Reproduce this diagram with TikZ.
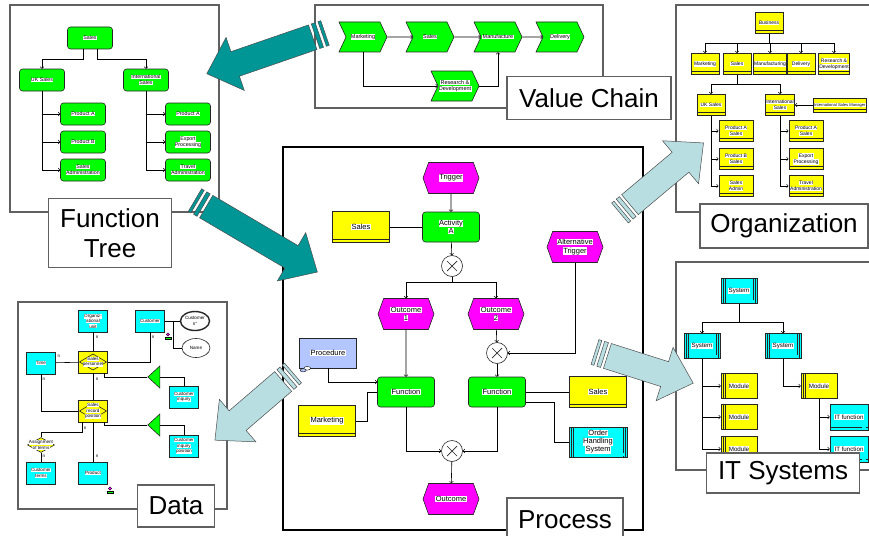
\documentclass[tikz,border=0pt]{standalone}
\usepackage{fontspec}
\setmainfont{Liberation Sans}
\usepackage{tikz}
\usetikzlibrary{calc}
\usetikzlibrary{shapes.geometric, shapes.symbols, arrows}

\definecolor{fngreen}{RGB}{0,255,0}
\definecolor{evpink}{RGB}{255,0,255}
\definecolor{orgyellow}{RGB}{255,255,0}
\definecolor{syscyan}{RGB}{0,255,255}
\definecolor{doclilac}{RGB}{180,198,255}
\definecolor{darkteal}{RGB}{0,150,150}
\definecolor{paleteal}{RGB}{184,222,226}
\definecolor{framegray}{RGB}{96,96,96}

% white patch behind each line of box text
\newcommand{\wt}[1]{{\setlength{\fboxsep}{0.3pt}\colorbox{white}{#1}}}

% striped block arrow: tail point, direction, length, colour
\newcommand{\bigarrow}[4]{%
  \begin{scope}[shift={#1}, rotate=#2]
    \filldraw[fill=#4, draw=black!70, line width=0.5pt] (0,-13) rectangle (3,13);
    \filldraw[fill=#4, draw=black!70, line width=0.5pt] (6,-13) rectangle (10,13);
    \filldraw[fill=#4, draw=black!70, line width=0.5pt] (13,-13) -- ({#3-30},-13) -- ({#3-30},-28)
      -- (#3,0) -- ({#3-30},28) -- ({#3-30},13) -- (13,13) -- cycle;
  \end{scope}}

\tikzstyle{panel} = [draw=framegray, line width=1.1pt]
\tikzstyle{caption} = [rectangle, draw=framegray, line width=1.1pt, fill=white, align=center,
  font=\fontsize{26}{30}\selectfont]
\tikzstyle{arrow} = [->,>=to]
\tikzstyle{nlbl} = [inner sep=0pt, font=\fontsize{4.5}{5}\selectfont]

% basic shapes
\tikzstyle{fnshape} = [rectangle, rounded corners=3pt, draw=black!85, fill=fngreen, align=center, inner sep=0.5pt]
\tikzstyle{evshape} = [signal, signal to=east and west, signal pointer angle=140, draw=black!85,
  fill=evpink, align=center, inner sep=0.5pt]
\tikzstyle{vcshape} = [signal, signal from=west, signal to=east, signal pointer angle=130,
  draw=black!85, fill=fngreen, align=center, inner sep=0.5pt]
\tikzstyle{orgshape} = [rectangle, draw=black!85, fill=orgyellow, align=center, inner sep=0.5pt,
  path picture={\draw ([yshift=3pt]path picture bounding box.south west)
    -- ([yshift=3pt]path picture bounding box.south east);}]
\tikzstyle{sysshape} = [rectangle, draw=black!85, fill=syscyan, align=center, inner sep=0.5pt,
  path picture={
    \draw ([xshift=2pt]path picture bounding box.north west) -- ([xshift=2pt]path picture bounding box.south west)
          ([xshift=4pt]path picture bounding box.north west) -- ([xshift=4pt]path picture bounding box.south west)
          ([xshift=-2pt]path picture bounding box.north east) -- ([xshift=-2pt]path picture bounding box.south east)
          ([xshift=-4pt]path picture bounding box.north east) -- ([xshift=-4pt]path picture bounding box.south east);
    \fill ([shift={(-6pt,1pt)}]path picture bounding box.south east) rectangle +(4pt,3pt);}]
\tikzstyle{modshape} = [rectangle, draw=black!85, fill=orgyellow, align=center, inner sep=0.5pt,
  path picture={
    \draw ([xshift=2pt]path picture bounding box.north west) -- ([xshift=2pt]path picture bounding box.south west)
          ([xshift=4pt]path picture bounding box.north west) -- ([xshift=4pt]path picture bounding box.south west);
    \fill ([shift={(-6pt,1pt)}]path picture bounding box.south east) rectangle +(4pt,3pt);}]
\tikzstyle{itfshape} = [rectangle, draw=black!85, fill=syscyan, align=center, inner sep=0.5pt,
  path picture={
    \draw ([yshift=3pt]path picture bounding box.south west) -- ([yshift=3pt]path picture bounding box.south east);
    \fill ([shift={(-6pt,1pt)}]path picture bounding box.south east) rectangle +(4pt,3pt);}]

% function tree and value chain
\tikzstyle{ftbox} = [fnshape, minimum width=45pt, minimum height=22pt, font=\fontsize{5.3}{6.2}\selectfont]
\tikzstyle{vcbox} = [vcshape, minimum width=48pt, minimum height=30pt, font=\fontsize{5.5}{6.4}\selectfont]
% organization
\tikzstyle{orgbox} = [orgshape, line width=1pt, minimum width=28pt, minimum height=21pt, font=\fontsize{5}{6}\selectfont]
\tikzstyle{orgsub} = [orgbox, minimum width=34pt]
% process
\tikzstyle{pfn} = [fnshape, minimum width=57pt, minimum height=30pt, font=\fontsize{7.5}{8.4}\selectfont]
\tikzstyle{pev} = [evshape, minimum width=56pt, minimum height=31pt, font=\fontsize{7.5}{8.4}\selectfont]
\tikzstyle{porg} = [orgshape, minimum width=57pt, minimum height=31pt, font=\fontsize{7.5}{8.4}\selectfont]
\tikzstyle{pdoc} = [rectangle, draw=black!85, fill=doclilac, minimum width=57pt, minimum height=30pt,
  inner sep=0.5pt, font=\fontsize{7.5}{8.4}\selectfont]
\tikzstyle{papp} = [sysshape, minimum width=58pt, minimum height=30pt, font=\fontsize{7.5}{8}\selectfont]
\tikzstyle{xor} = [circle, draw=black!85, fill=white, minimum size=21pt, inner sep=0pt,
  path picture={\draw[line width=0.7pt]
    ([shift={(-5pt,-5pt)}]path picture bounding box.center) -- ([shift={(5pt,5pt)}]path picture bounding box.center)
    ([shift={(-5pt,5pt)}]path picture bounding box.center) -- ([shift={(5pt,-5pt)}]path picture bounding box.center);}]
% data
\tikzstyle{entity} = [rectangle, draw=black!85, fill=syscyan, minimum width=29pt, minimum height=22pt,
  align=center, inner sep=0.5pt, font=\fontsize{4.6}{5.4}\selectfont]
\tikzstyle{relbox} = [rectangle, draw=black!85, fill=orgyellow, minimum width=29pt, minimum height=22pt,
  align=center, inner sep=0.5pt, font=\fontsize{4.6}{5.4}\selectfont,
  path picture={\draw ([xshift=1pt]path picture bounding box.west) -- ([yshift=-3pt]path picture bounding box.north)
    -- ([xshift=-1pt]path picture bounding box.east) -- ([yshift=3pt]path picture bounding box.south) -- cycle;}]
\tikzstyle{reldia} = [diamond, draw=black!85, fill=orgyellow, minimum width=27pt, minimum height=15pt, inner sep=0pt]
\tikzstyle{datatxt} = [inner sep=0pt, align=center, font=\fontsize{4.6}{5.4}\selectfont]
\tikzstyle{attr} = [ellipse, draw=black!85, fill=white, minimum width=28pt, minimum height=19pt, inner sep=0pt,
  align=center, font=\fontsize{4.6}{5.4}\selectfont]
\tikzstyle{tri} = [isosceles triangle, isosceles triangle stretches, rotate=180, draw=black!85, fill=fngreen,
  minimum width=22pt, minimum height=12pt, inner sep=0pt]
\tikzstyle{keymark} = [line width=0.4pt]
% it systems
\tikzstyle{sysbox} = [sysshape, minimum width=36pt, minimum height=25pt, font=\fontsize{6.2}{7}\selectfont]
\tikzstyle{modbox} = [modshape, minimum width=36pt, minimum height=25pt, font=\fontsize{6.2}{7}\selectfont]
\tikzstyle{itfbox} = [itfshape, minimum width=38pt, minimum height=26pt, font=\fontsize{6.2}{7}\selectfont]

\begin{document}
\begin{tikzpicture}[x=1pt, y=-1pt, line width=0.6pt]
    \fill[white] (0,0) rectangle (869,535);
    \useasboundingbox (0,0) rectangle (869,535);

    % Function tree
    \draw[panel] (10,5) rectangle (219,212);
    \node (ftSales) [ftbox] at (90,38) {\wt{Sales}};
    \node (ftUK) [ftbox] at (42,80) {\wt{UK Sales}};
    \node (ftIntl) [ftbox] at (146,80) {\wt{International}\\\wt{Sales}};
    \node (ftUKa) [ftbox] at (83,114) {\wt{Product A}};
    \node (ftUKb) [ftbox] at (83,142) {\wt{Product B}};
    \node (ftUKc) [ftbox] at (83,170) {\wt{Sales}\\\wt{Administration}};
    \node (ftINa) [ftbox] at (188,114) {\wt{Product A}};
    \node (ftINb) [ftbox] at (188,142) {\wt{Export}\\\wt{Processing}};
    \node (ftINc) [ftbox] at (188,170) {\wt{Travel}\\\wt{Administration}};

    \draw [arrow] ([xshift=-7pt]ftSales.south) -- ++(0,10) -| (ftUK.north);
    \draw [arrow] ([xshift=7pt]ftSales.south) -- ++(0,10) -| (ftIntl.north);
    \foreach \n in {ftUKa, ftUKb, ftUKc}
        \draw [arrow] (ftUK.south) |- (\n.west);
    \foreach \n in {ftINa, ftINb, ftINc}
        \draw [arrow] (ftIntl.south) |- (\n.west);

    % Value chain
    \draw[panel] (315,5) rectangle (603,108);
    \node (vcMkt) [vcbox] at (363,37) {\wt{Marketing}};
    \node (vcSales) [vcbox] at (430,37) {\wt{Sales}};
    \node (vcMfg) [vcbox] at (498,37) {\wt{Manufacture}};
    \node (vcDel) [vcbox] at (560,37) {\wt{Delivery}};
    \node (vcRD) [vcbox] at (455,86) {\wt{Research \&}\\\wt{Development}};

    \draw [arrow] (vcMkt) -- (vcSales);
    \draw [arrow] (vcSales) -- (vcMfg);
    \draw [arrow] (vcMfg) -- (vcDel);
    \draw [arrow] (vcMkt.south) |- (vcRD.west);
    \draw [arrow] (vcRD.east) -| (vcMfg.south);

    % Organization
    \draw[panel] (676,5) rectangle (885,212);
    \node (orgBiz) [orgbox] at (769,23) {\wt{Business}};
    \node (orgMkt) [orgbox] at (705,64) {\wt{Marketing}};
    \node (orgSales) [orgbox] at (737,64) {\wt{Sales}};
    \node (orgMfg) [orgbox] at (770,64) {\wt{Manufacturing}};
    \node (orgDel) [orgbox] at (801,64) {\wt{Delivery}};
    \node (orgRD) [orgbox] at (834,64) {\wt{Research \&}\\\wt{Development}};
    \node (orgUK) [orgbox] at (711,105) {\wt{UK Sales}};
    \node (orgIntl) [orgbox] at (780,105) {\wt{International}\\\wt{Sales}};
    \node (orgMgr) [orgbox, minimum height=14pt, anchor=west, font=\fontsize{4.1}{5}\selectfont]
        at (813,105) {\wt{International Sales Manager}};
    \node (orgUKa) [orgsub] at (736,131) {\wt{Product A}\\\wt{Sales}};
    \node (orgUKb) [orgsub] at (736,159) {\wt{Product B}\\\wt{Sales}};
    \node (orgUKc) [orgsub] at (736,186) {\wt{Sales}\\\wt{Admin}};
    \node (orgINa) [orgsub] at (806,131) {\wt{Product A}\\\wt{Sales}};
    \node (orgINb) [orgsub] at (806,159) {\wt{Export}\\\wt{Processing}};
    \node (orgINc) [orgsub] at (806,186) {\wt{Travel}\\\wt{Administration}};

    \foreach \n in {orgMkt, orgSales, orgMfg, orgDel, orgRD}
        \draw [arrow] (orgBiz.south) -- ++(0,9) -| (\n.north);
    \draw [arrow] (orgSales.south) -- ++(0,9) -| (orgUK.north);
    \draw [arrow] (orgSales.south) -- ++(0,9) -| (orgIntl.north);
    \foreach \n in {orgUKa, orgUKb, orgUKc}
        \draw [arrow] (orgUK.south) |- (\n.west);
    \foreach \n in {orgINa, orgINb, orgINc}
        \draw [arrow] (orgIntl.south) |- (\n.west);
    \draw [arrow] (orgMgr) -- (orgIntl);

    % Process
    \draw[line width=2pt] (283,147) rectangle (643,530);
    \node (trig) [pev] at (451,178) {\wt{Trigger}};
    \node (actA) [pfn] at (451,227) {\wt{Activity}\\\wt{A}};
    \node (pSales) [porg] at (361,227) {\wt{Sales}};
    \node (x1) [xor] at (452,266) {};
    \node (out1) [pev] at (406,314) {\wt{Outcome}\\\wt{1}};
    \node (out2) [pev] at (496,314) {\wt{Outcome}\\\wt{2}};
    \node (altTrig) [pev] at (575,247) {\wt{Alternative}\\\wt{Trigger}};
    \node (x2) [xor] at (497,353) {};
    \node (proc) [pdoc] at (328,353) {\wt{Procedure}};
    \node (fnL) [pfn] at (406,392) {\wt{Function}};
    \node (fnR) [pfn] at (497,392) {\wt{Function}};
    \node (pMkt) [porg] at (327,421) {\wt{Marketing}};
    \node (pSales2) [porg] at (598,392) {\wt{Sales}};
    \node (ohs) [papp] at (598,442) {\wt{Order}\\\wt{Handling}\\\wt{System}};
    \node (x3) [xor] at (452,451) {};
    \node (outF) [pev] at (451,499) {\wt{Outcome}};

    % small icon on the procedure
    \draw[fill=white, line width=0.4pt] ([xshift=8pt]proc.south west) ellipse (3.5pt and 1.8pt);
    \draw[fill=doclilac, line width=0.4pt] ([shift={(4pt,-2pt)}]proc.south west) ellipse (3pt and 1.6pt);

    \draw [arrow] (trig) -- (actA);
    \draw (pSales) -- (actA);
    \draw [arrow] (actA) -- (x1);
    \draw [arrow] (x1.south) -- ++(0,5) -| (out1.north);
    \draw [arrow] (x1.south) -- ++(0,5) -| (out2.north);
    \draw [arrow] (out1) -- (fnL);
    \draw [arrow] (out2) -- (x2);
    \draw [arrow] (altTrig.south) |- (x2.east);
    \draw [arrow] (x2) -- (fnR);
    \draw [arrow] (proc.south) |- ([yshift=10pt]fnL.west);
    \draw (pMkt.east) -- ++(11,0) |- (fnL.west);
    \draw (fnR) -- (pSales2);
    \draw ([yshift=-10pt]fnR.east) -- ++(28,0) |- (ohs.west);
    \draw [arrow] (fnL.south) |- (x3.west);
    \draw [arrow] (fnR.south) |- (x3.east);
    \draw [arrow] (x3) -- (outF);

    % Data
    \draw[panel] (18,302) rectangle (227,509);
    \node (dOrg) [entity] at (93,321) {\wt{Organiz-}\\\wt{ational}\\\wt{unit}};
    \node (dCust) [entity] at (150,321) {\wt{Customer}};
    \node (dCustNo) [attr, line width=1.4pt] at (195,321) {\wt{Customer}\\\wt{n°}};
    \node (dName) [attr] at (196,348) {\wt{Name}};
    \node (dTime) [entity] at (41,363) {\wt{Time}};
    \node (dSP) [relbox] at (93,362) {\wt{Sales}\\\wt{personnel}};
    \node (dInq) [entity] at (184,397) {\wt{Customer}\\\wt{inquiry}};
    \node (dTri1) [tri] at (155,377) {};
    \node (dSRP) [relbox] at (93,411) {\wt{Sales}\\\wt{record}\\\wt{position}};
    \node (dTri2) [tri] at (155,425) {};
    \node (dInqPos) [entity] at (184,446) {\wt{Customer}\\\wt{inquiry}\\\wt{position}};
    \node (dAssign) [reldia] at (41,445) {};
    \node (dAssignTxt) [datatxt] at (dAssign) {\wt{Assignment}\\\wt{of terms}};
    \node (dTerms) [entity] at (41,473) {\wt{Customer}\\\wt{terms}};
    \node (dProd) [entity] at (93,473) {\wt{Product}};

    \draw (dOrg) -- (dSP);
    \draw (dCust.south) |- (dSP.east);
    \draw (dCust) -- (dCustNo);
    \draw (dCust.east) -- ++(8,0) |- (dName.west);
    \draw (dTime) -- (dSP);
    \draw (dTime.south) |- (dSRP.west);
    \draw (dSP) -- (dSRP);
    \draw ([xshift=11pt]dSP.south) |- (dTri1.apex);
    \draw (dTri1.lower side) -| (dInq.north);
    \draw ([xshift=11pt]dSRP.south) |- (dTri2.apex);
    \draw (dTri2.lower side) -| (dInqPos.north);
    \draw (dSRP) -- (dProd);
    \draw ([xshift=-11pt]dSRP.south) -- ++(0,10) -| (dAssign.north);
    \draw (dAssign) -- (dTerms);

    % cardinalities
    \foreach \p [count=\i] in {(97,337), (153,337), (59,356), (44,379), (97,379), (85,428), (97,456), (44,456)}
        \node (card\i) [nlbl] at \p {n};

    % key markers
    \foreach \kx/\ky in {168/336, 110/490} {
        \begin{scope}[shift={(\kx,\ky)}]
            \filldraw[keymark, fill=fngreen] (-3,1) rectangle (3,3);
            \filldraw[keymark, fill=evpink] (0,-1.5) circle (1.6pt);
        \end{scope}
    }

    % IT systems
    \draw[panel] (676,262) rectangle (885,470);
    \node (itTop) [sysbox] at (739,291) {\wt{System}};
    \node (itL) [sysbox] at (702,346) {\wt{System}};
    \node (itR) [sysbox] at (783,346) {\wt{System}};
    \node (itM1) [modbox] at (739,386) {\wt{Module}};
    \node (itM2) [modbox] at (739,417) {\wt{Module}};
    \node (itM3) [modbox] at (739,449) {\wt{Module}};
    \node (itM4) [modbox] at (819,386) {\wt{Module}};
    \node (itF1) [itfbox] at (849,417) {\wt{IT function}};
    \node (itF2) [itfbox] at (849,449) {\wt{IT function}};

    \draw [arrow] (itTop.south) -- ++(0,18) -| (itL.north);
    \draw [arrow] (itTop.south) -- ++(0,18) -| (itR.north);
    \foreach \m in {itM1, itM2, itM3}
        \draw [arrow] (itL.south) |- (\m.west);
    \draw [arrow] (itR.south) |- (itM4.west);
    \foreach \m in {itF1, itF2}
        \draw [arrow] (itM4.south) |- (\m.west);

    % Captions
    \node (capFT) [caption, minimum width=123pt, minimum height=69pt] at (110,233) {Function\\Tree};
    \node (capVC) [caption, minimum width=164pt, minimum height=43pt] at (589,98) {Value Chain};
    \node (capOrg) [caption, minimum width=168pt, minimum height=44pt] at (784,226) {Organization};
    \node (capData) [caption, minimum width=77pt, minimum height=42pt] at (176,506) {Data};
    \node (capProc) [caption, minimum width=116pt, minimum height=44pt] at (565,520) {Process};
    \node (capIT) [caption, minimum width=153pt, minimum height=40pt] at (783,473) {IT Systems};

    % Block arrows between the views
    \bigarrow{(325,33)}{199}{125}{darkteal}
    \bigarrow{(195,200)}{-30.5}{142}{darkteal}
    \bigarrow{(620,213)}{40}{109}{paleteal}
    \bigarrow{(595,352)}{-17.6}{103}{paleteal}
    \bigarrow{(293,373)}{-139.3}{103}{paleteal}
\end{tikzpicture}
\end{document}
